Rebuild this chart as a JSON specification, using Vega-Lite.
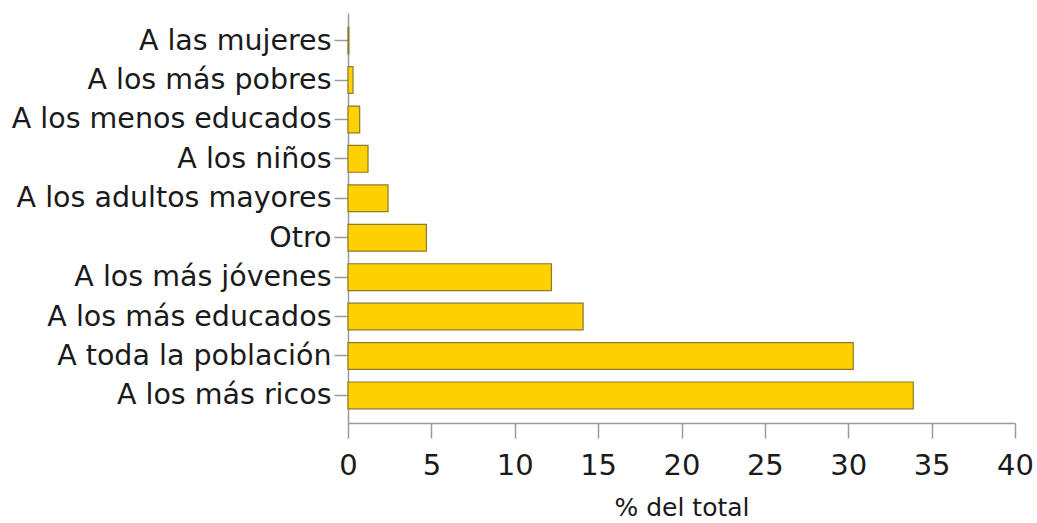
{
  "$schema": "https://vega.github.io/schema/vega-lite/v6.json",
  "width": 667,
  "height": 410,
  "autosize": {"type": "none"},
  "padding": {"left": 348, "top": 13, "right": 22, "bottom": 100},
  "background": "white",
  "config": {"view": {"stroke": null}},
  "data": {
    "values": [
      {"grupo": "A las mujeres", "pct": 0.05},
      {"grupo": "A los más pobres", "pct": 0.3},
      {"grupo": "A los menos educados", "pct": 0.7},
      {"grupo": "A los niños", "pct": 1.2},
      {"grupo": "A los adultos mayores", "pct": 2.4},
      {"grupo": "Otro", "pct": 4.7},
      {"grupo": "A los más jóvenes", "pct": 12.2},
      {"grupo": "A los más educados", "pct": 14.1},
      {"grupo": "A toda la población", "pct": 30.3},
      {"grupo": "A los más ricos", "pct": 33.9}
    ]
  },
  "mark": {"type": "bar", "fill": "#FFD100", "stroke": "#8C7A28", "strokeWidth": 1.2},
  "encoding": {
    "y": {
      "field": "grupo",
      "type": "nominal",
      "sort": null,
      "scale": {"paddingInner": 0.32, "paddingOuter": 0.36},
      "axis": {
        "title": null,
        "domainColor": "#9a9a9a",
        "domainWidth": 1.5,
        "tickColor": "#9a9a9a",
        "tickWidth": 1.5,
        "tickSize": 14,
        "labelPadding": 3,
        "labelFont": "DejaVu Sans",
        "labelFontSize": 28.5,
        "labelColor": "#1a1a1a",
        "labelLimit": 400
      }
    },
    "x": {
      "field": "pct",
      "type": "quantitative",
      "scale": {"domain": [0, 40], "nice": false},
      "axis": {
        "title": "% del total",
        "values": [0, 5, 10, 15, 20, 25, 30, 35, 40],
        "grid": false,
        "domainColor": "#9a9a9a",
        "domainWidth": 1.5,
        "tickColor": "#9a9a9a",
        "tickWidth": 1.5,
        "tickSize": 15,
        "labelPadding": 13,
        "labelFont": "DejaVu Sans",
        "labelFontSize": 29,
        "labelColor": "#1a1a1a",
        "labelFontWeight": "normal",
        "labelOverlap": false,
        "labelFlush": false,
        "titleFont": "DejaVu Sans",
        "titleFontSize": 25,
        "titleFontWeight": "normal",
        "titleColor": "#1a1a1a",
        "titlePadding": 15
      }
    }
  }
}
